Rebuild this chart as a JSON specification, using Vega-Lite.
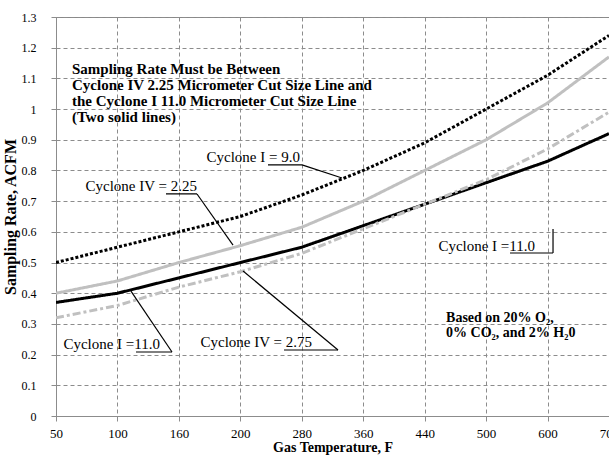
{
  "$schema": "https://vega.github.io/schema/vega-lite/v6.json",
  "width": 553,
  "height": 399,
  "autosize": {"type": "none"},
  "padding": {"left": 56, "top": 17, "right": 0, "bottom": 40},
  "background": "white",
  "config": {
    "font": "Liberation Serif",
    "view": {"stroke": "#888888", "strokeWidth": 1},
    "axis": {
      "grid": true,
      "gridDash": [4, 3],
      "gridColor": "#8c8c8c",
      "gridWidth": 1,
      "domainColor": "#8c8c8c",
      "tickColor": "#8c8c8c",
      "tickSize": 5,
      "labelFont": "Liberation Serif",
      "labelFontSize": 13,
      "labelColor": "#000000",
      "titleFont": "Liberation Serif",
      "titleFontSize": 14,
      "titleFontWeight": "bold",
      "titleColor": "#000000"
    }
  },
  "datasets": {
    "series": [
      {"s": "Cyclone I = 9.0", "x": 0, "y": 0.50},
      {"s": "Cyclone I = 9.0", "x": 1, "y": 0.55},
      {"s": "Cyclone I = 9.0", "x": 2, "y": 0.60},
      {"s": "Cyclone I = 9.0", "x": 3, "y": 0.65},
      {"s": "Cyclone I = 9.0", "x": 4, "y": 0.72},
      {"s": "Cyclone I = 9.0", "x": 5, "y": 0.80},
      {"s": "Cyclone I = 9.0", "x": 6, "y": 0.89},
      {"s": "Cyclone I = 9.0", "x": 7, "y": 1.00},
      {"s": "Cyclone I = 9.0", "x": 8, "y": 1.11},
      {"s": "Cyclone I = 9.0", "x": 9, "y": 1.24},
      {"s": "Cyclone IV = 2.25", "x": 0, "y": 0.40},
      {"s": "Cyclone IV = 2.25", "x": 1, "y": 0.44},
      {"s": "Cyclone IV = 2.25", "x": 2, "y": 0.50},
      {"s": "Cyclone IV = 2.25", "x": 3, "y": 0.555},
      {"s": "Cyclone IV = 2.25", "x": 4, "y": 0.615},
      {"s": "Cyclone IV = 2.25", "x": 5, "y": 0.70},
      {"s": "Cyclone IV = 2.25", "x": 6, "y": 0.80},
      {"s": "Cyclone IV = 2.25", "x": 7, "y": 0.90},
      {"s": "Cyclone IV = 2.25", "x": 8, "y": 1.02},
      {"s": "Cyclone IV = 2.25", "x": 9, "y": 1.17},
      {"s": "Cyclone I = 11.0", "x": 0, "y": 0.37},
      {"s": "Cyclone I = 11.0", "x": 1, "y": 0.40},
      {"s": "Cyclone I = 11.0", "x": 2, "y": 0.45},
      {"s": "Cyclone I = 11.0", "x": 3, "y": 0.50},
      {"s": "Cyclone I = 11.0", "x": 4, "y": 0.55},
      {"s": "Cyclone I = 11.0", "x": 5, "y": 0.62},
      {"s": "Cyclone I = 11.0", "x": 6, "y": 0.69},
      {"s": "Cyclone I = 11.0", "x": 7, "y": 0.76},
      {"s": "Cyclone I = 11.0", "x": 8, "y": 0.83},
      {"s": "Cyclone I = 11.0", "x": 9, "y": 0.92},
      {"s": "Cyclone IV = 2.75", "x": 0, "y": 0.32},
      {"s": "Cyclone IV = 2.75", "x": 1, "y": 0.36},
      {"s": "Cyclone IV = 2.75", "x": 2, "y": 0.42},
      {"s": "Cyclone IV = 2.75", "x": 3, "y": 0.47},
      {"s": "Cyclone IV = 2.75", "x": 4, "y": 0.53},
      {"s": "Cyclone IV = 2.75", "x": 5, "y": 0.61},
      {"s": "Cyclone IV = 2.75", "x": 6, "y": 0.69},
      {"s": "Cyclone IV = 2.75", "x": 7, "y": 0.77},
      {"s": "Cyclone IV = 2.75", "x": 8, "y": 0.87},
      {"s": "Cyclone IV = 2.75", "x": 9, "y": 0.99}
    ],
    "rules": [
      {"x": 3.45, "y": 0.818, "x2": 4.004, "y2": 0.818},
      {"x": 4.004, "y": 0.818, "x2": 4.655, "y2": 0.7755},
      {"x": 1.79, "y": 0.7234, "x2": 2.295, "y2": 0.7234},
      {"x": 2.295, "y": 0.7234, "x2": 2.881, "y2": 0.557},
      {"x": 1.302, "y": 0.2085, "x2": 1.888, "y2": 0.2085},
      {"x": 1.888, "y": 0.2085, "x2": 1.22, "y2": 0.407},
      {"x": 3.711, "y": 0.215, "x2": 4.59, "y2": 0.215},
      {"x": 4.59, "y": 0.215, "x2": 3.044, "y2": 0.4725},
      {"x": 7.389, "y": 0.531, "x2": 8.089, "y2": 0.531},
      {"x": 8.089, "y": 0.531, "x2": 8.089, "y2": 0.609}
    ],
    "labels": [
      {"t": "Cyclone I = 9.0", "x": 3.971, "y": 0.8276},
      {"t": "Cyclone IV = 2.25", "x": 2.295, "y": 0.733},
      {"t": "Cyclone I =11.0", "x": 1.693, "y": 0.218},
      {"t": "Cyclone IV = 2.75", "x": 4.167, "y": 0.2248},
      {"t": "Cyclone I =11.0", "x": 7.796, "y": 0.5376}
    ],
    "notes1": [
      {"t": ["Sampling Rate Must be Between", "Cyclone IV 2.25 Micrometer Cut Size Line and", "the Cyclone I 11.0 Micrometer Cut Size Line", "(Two solid lines)"], "x": 0.26, "y": 1.1535}
    ],
    "notes2": [
      {"t": ["Based on 20% O₂,", "0% CO₂, and 2% H₂0"], "x": 6.348, "y": 0.342}
    ]
  },
  "encoding": {
    "x": {
      "field": "x",
      "type": "quantitative",
      "scale": {"domain": [0, 9], "nice": false, "zero": false},
      "axis": {
        "values": [0, 1, 2, 3, 4, 5, 6, 7, 8, 9],
        "labelExpr": "['50','100','160','200','280','360','440','500','600','700'][datum.value]",
        "labelFlush": false,
        "labelOverlap": false,
        "labelPadding": 6,
        "title": "Gas Temperature, F",
        "titleX": 276.5,
        "titleY": 31,
        "titleBaseline": "middle"
      }
    },
    "y": {
      "field": "y",
      "type": "quantitative",
      "scale": {"domain": [0, 1.3], "nice": false, "zero": true},
      "axis": {
        "values": [0, 0.1, 0.2, 0.3, 0.4, 0.5, 0.6, 0.7, 0.8, 0.9, 1, 1.1, 1.2, 1.3],
        "labelExpr": "'' + round(datum.value * 10) / 10",
        "labelFont": "Liberation Serif",
        "labelFontSize": 12,
        "labelOverlap": false,
        "labelPadding": 15,
        "title": "Sampling Rate, ACFM",
        "titleFontSize": 16,
        "titleX": -46,
        "titleY": 199.5,
        "titleBaseline": "middle"
      }
    }
  },
  "layer": [
    {
      "data": {"name": "series"},
      "mark": {"type": "line", "strokeWidth": 3, "strokeCap": "butt", "clip": true},
      "encoding": {
        "color": {
          "field": "s",
          "type": "nominal",
          "scale": {
            "domain": ["Cyclone I = 9.0", "Cyclone IV = 2.25", "Cyclone I = 11.0", "Cyclone IV = 2.75"],
            "range": ["#000000", "#c0c0c0", "#000000", "#c0c0c0"]
          },
          "legend": null
        },
        "strokeDash": {
          "field": "s",
          "type": "nominal",
          "scale": {
            "domain": ["Cyclone I = 9.0", "Cyclone IV = 2.25", "Cyclone I = 11.0", "Cyclone IV = 2.75"],
            "range": [[3, 2], [1, 0], [1, 0], [8, 3, 3, 3]]
          },
          "legend": null
        },
        "order": {"field": "x", "type": "quantitative"}
      }
    },
    {
      "data": {"name": "rules"},
      "mark": {"type": "rule", "color": "#000000", "strokeWidth": 1.2},
      "encoding": {
        "x2": {"field": "x2"},
        "y2": {"field": "y2"}
      }
    },
    {
      "data": {"name": "labels"},
      "mark": {"type": "text", "align": "right", "baseline": "alphabetic", "fontSize": 15, "font": "Liberation Serif", "color": "#000000"},
      "encoding": {
        "text": {"field": "t"}
      }
    },
    {
      "data": {"name": "notes1"},
      "mark": {"type": "text", "align": "left", "baseline": "top", "fontSize": 15, "fontWeight": "bold", "font": "Liberation Serif", "color": "#000000", "lineHeight": 16},
      "encoding": {
        "text": {"field": "t"}
      }
    },
    {
      "data": {"name": "notes2"},
      "mark": {"type": "text", "align": "left", "baseline": "top", "fontSize": 14, "fontWeight": "bold", "font": "Liberation Serif", "color": "#000000", "lineHeight": 15},
      "encoding": {
        "text": {"field": "t"}
      }
    }
  ]
}
